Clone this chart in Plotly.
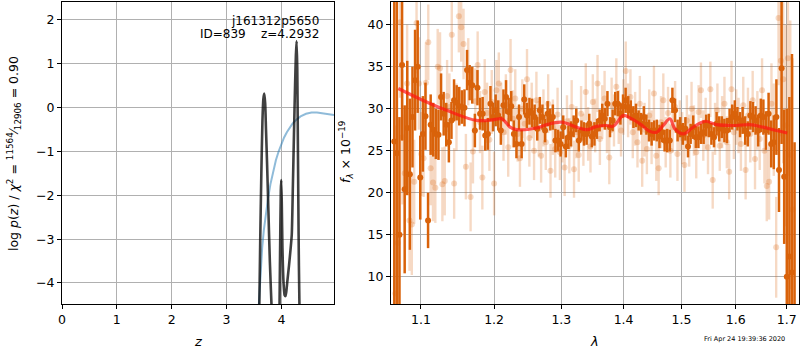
import numpy as np
import plotly.graph_objects as go

# ---- redshift probability panel ----
z_pz = [3.595, 3.615, 3.635, 3.655, 3.672, 3.688, 3.705, 3.72, 3.74, 3.765, 3.79, 3.83,
        3.88, 3.93,
        3.955, 3.975, 3.99, 3.998, 4.008, 4.02, 4.04, 4.06, 4.075, 4.09, 4.11, 4.14,
        4.17, 4.19, 4.21, 4.23, 4.25, 4.265, 4.278, 4.29, 4.30, 4.31, 4.32, 4.335]
logp_pz = [-4.8, -3.0, -1.5, -0.3, 0.2, 0.32, 0.1, -0.5, -1.3, -2.4, -3.5, -4.8,
           -6.0, -6.0,
           -5.5, -3.5, -1.9, -1.65, -2.2, -3.2, -4.0, -4.28, -4.3, -4.2, -3.95, -3.6,
           -3.2, -2.9, -1.8, -0.6, 0.5, 1.2, 1.52, 0.9, -0.6, -2.2, -3.6, -5.0]

z_prior = [3.58, 3.60, 3.62, 3.65, 3.68, 3.72, 3.76, 3.80, 3.85, 3.90, 3.95, 4.0, 4.05,
           4.1, 4.15, 4.2, 4.27, 4.35, 4.45, 4.55, 4.65, 4.75, 4.85, 4.96]
logp_prior = [-4.7, -4.2, -3.7, -3.2, -2.8, -2.4, -2.05, -1.75, -1.45, -1.2, -1.0, -0.83,
              -0.68, -0.56, -0.46, -0.37, -0.28, -0.2, -0.14, -0.11, -0.11, -0.13, -0.15, -0.17]

# ---- spectrum panel ----
dark_flux = [
    26.1, 24.7, 15.0, 35.2, 20.4, 27.7, 22.2, 29.0, 33.4, 35.0,
    21.8, 27.0, 29.1, 16.7, 28.1, 27.5, 27.0, 26.9, 31.4, 29.4,
    28.1, 26.0, 28.6, 31.0, 30.7, 30.3, 30.2, 30.1, 34.6, 33.1,
    32.8, 27.4, 32.5, 29.4, 29.4, 26.8, 27.0, 30.6, 29.0, 29.8,
    29.2, 27.4, 30.4, 31.4, 29.6, 30.3, 27.0, 25.8, 29.0, 25.8,
    31.1, 29.2, 29.7, 29.5, 29.0, 27.6, 29.8, 29.0, 27.4, 29.4,
    28.7, 29.0, 26.2, 26.2, 25.8, 27.8, 25.5, 26.6, 27.0, 27.9,
    28.6, 26.2, 27.4, 27.0, 27.0, 28.2, 26.7, 27.0, 27.6, 28.6,
    29.2, 28.8, 30.6, 27.8, 28.6, 30.6, 30.6, 29.4, 30.3, 31.0,
    30.2, 29.8, 29.0, 29.2, 28.6, 28.2, 29.0, 28.1, 27.4, 27.0,
    27.4, 27.4, 26.7, 27.2, 26.2, 26.2, 26.2, 31.0, 29.8, 27.4,
    27.8, 27.0, 27.6, 25.5, 27.0, 27.8, 26.6, 26.6, 27.0, 27.2,
    28.0, 28.0, 27.0, 26.6, 28.2, 27.6, 27.8, 27.4, 27.4, 28.6,
    29.0, 29.4, 28.8, 28.1, 28.6, 27.4, 27.0, 29.2, 29.0, 28.6,
    27.4, 29.2, 29.0, 27.4, 29.4, 25.8, 26.0, 29.0, 22.7, 34.8,
    21.9, 10.0, 12.4, 10.5, 3.0,
]
dark_err = [
    30, 28, 14, 9, 10, 8, 9, 6, 6, 5.5,
    5, 4.5, 4, 3.3, 3.6, 3.2, 3.0, 3.0, 2.8, 2.6,
    2.6, 2.4, 2.2, 2.5, 2.1, 2.3, 2.0, 2.2, 2.4, 2.1,
    2.2, 2.0, 2.1, 1.9, 2.0, 1.8, 1.9, 2.1, 1.7, 1.9,
    1.8, 1.7, 1.9, 2.0, 1.7, 1.8, 1.6, 1.7, 1.5, 1.7,
    1.8, 1.5, 1.6, 1.7, 1.5, 1.4, 1.6, 1.5, 1.4, 1.5,
    1.3, 1.5, 1.4, 1.3, 1.5, 1.4, 1.3, 1.4, 1.5, 1.3,
    1.4, 1.3, 1.2, 1.4, 1.3, 1.2, 1.3, 1.4, 1.2, 1.3,
    1.4, 1.3, 1.5, 1.2, 1.3, 1.4, 1.5, 1.3, 1.4, 1.5,
    1.3, 1.2, 1.3, 1.4, 1.2, 1.3, 1.3, 1.2, 1.3, 1.4,
    1.2, 1.3, 1.4, 1.2, 1.3, 1.4, 1.3, 1.5, 1.4, 1.3,
    1.2, 1.3, 1.4, 1.3, 1.2, 1.4, 1.3, 1.3, 1.2, 1.4,
    1.3, 1.4, 1.3, 1.2, 1.4, 1.5, 1.3, 1.4, 1.5, 1.4,
    1.5, 1.6, 1.4, 1.5, 1.6, 1.7, 1.5, 1.7, 1.8, 1.7,
    1.9, 2.0, 2.1, 2.3, 2.5, 2.8, 3.2, 4.5, 5.0, 9.0,
    8.0, 20.0, 19.0, 26.0, 23.0,
]
light_flux = [
    8.0, 14.0, 40.3, 26.6, 22.3, 33.0, 16.7, 16.2, 21.3, 40.2, 33.0,
    24.6, 24.1, 33.1, 37.9, 22.9, 21.2, 20.6, 35.0, 34.8, 21.0, 21.4, 31.5, 30.2, 38.8,
    21.1, 29.0, 41.0, 39.7, 37.7, 23.1, 34.4, 19.5, 24.9, 30.9, 35.2, 28.4, 21.8, 32.0,
    29.5, 26.3, 30.8,
    21.1, 32.2, 33.0, 29.6, 27.2, 30.5, 25.4, 34.6, 28.8, 31.2, 27.0, 24.1, 30.0, 28.2,
    33.5, 26.5, 29.8, 25.0, 31.0, 27.6, 24.4, 28.9, 26.0, 30.6, 22.6, 27.8, 25.2, 29.3,
    24.8,
    26.8, 23.0, 28.5, 25.6, 30.2, 22.8, 27.2, 24.5, 29.4, 26.3, 32.0, 27.0, 25.5, 30.8,
    28.0, 33.0, 26.4, 29.6, 31.2, 27.8, 24.2, 30.4, 28.6, 32.6, 29.0, 27.4, 30.2,
    34.5, 29.8, 31.4, 27.2, 28.8, 26.0, 30.6, 23.8, 27.5, 25.2, 29.2, 26.6, 31.8, 24.4,
    22.9, 28.4, 31.0, 26.0, 29.5, 25.0, 27.8, 30.2, 24.6, 28.0, 26.5,
    23.3, 28.6, 26.2, 30.0, 27.4, 24.8, 29.6, 32.2, 26.8, 28.2, 25.4, 32.3, 21.5, 27.6,
    29.8, 25.6, 28.4, 30.6, 26.0, 22.5, 32.3, 27.2, 29.0,
    28.0, 25.8, 30.4, 22.7, 29.2, 27.0, 31.0, 24.0, 28.6, 26.4, 32.2, 25.0, 20.8, 21.3,
    30.6, 27.5, 13.5, 40.8, 35.7, 33.5, 28.0, 36.0, 24.5, 18.0,
]
light_err = [
    20, 15, 9, 8, 7, 7, 6, 6, 5, 6, 5.5,
    5.0, 4.6, 4.8, 4.5, 4.4, 4.6, 4.2, 4.5, 4.3, 4.4, 4.1, 4.3, 4.0, 4.4,
    4.2, 4.0, 4.3, 4.1, 4.2, 3.9, 4.0, 4.1, 3.8, 3.9, 4.0, 3.7, 3.8, 3.9,
    3.6, 3.7, 3.8,
    3.8, 3.6, 3.7, 3.5, 3.4, 3.6, 3.5, 3.7, 3.4, 3.5, 3.3, 3.4, 3.5, 3.3,
    3.6, 3.4, 3.3, 3.5, 3.4, 3.3, 3.2, 3.4, 3.3, 3.5, 3.2, 3.3, 3.4, 3.2,
    3.3,
    3.2, 3.4, 3.1, 3.3, 3.2, 3.4, 3.1, 3.2, 3.3, 3.1, 3.4, 3.2, 3.1, 3.3,
    3.2, 3.4, 3.1, 3.2, 3.3, 3.1, 3.2, 3.3, 3.1, 3.4, 3.2, 3.1, 3.3,
    3.5, 3.2, 3.3, 3.1, 3.2, 3.0, 3.3, 3.1, 3.2, 3.0, 3.1, 3.2, 3.3, 3.0,
    3.2, 3.1, 3.2, 3.0, 3.1, 3.2, 3.0, 3.1, 3.2, 3.0, 3.1,
    3.2, 3.0, 3.1, 3.2, 3.0, 3.1, 3.2, 3.3, 3.0, 3.1, 3.2, 3.3, 3.4, 3.1,
    3.2, 3.0, 3.1, 3.2, 3.1, 3.3, 3.4, 3.2, 3.3,
    3.3, 3.2, 3.4, 3.5, 3.3, 3.4, 3.5, 3.6, 3.5, 3.7, 3.8, 3.9, 4.2, 4.5,
    4.8, 5.5, 6.0, 8.0, 9.0, 10.0, 12.0, 14.0, 16.0, 18.0,
]
model_wave = [1.0707, 1.1, 1.1342, 1.1753, 1.2, 1.2111, 1.2175, 1.223, 1.2325, 1.2623,
              1.2777, 1.3, 1.3242, 1.34, 1.356, 1.372, 1.3826, 1.4, 1.4106, 1.4275,
              1.4446, 1.4561, 1.4676, 1.4793, 1.4882, 1.5031, 1.5211, 1.5424, 1.5639,
              1.6, 1.6266, 1.6527, 1.6793, 1.701]
model_flux = [32.4, 31.1, 29.8, 28.6, 28.7, 28.8, 28.3, 27.8, 27.5, 27.7,
              28.1, 28.4, 27.8, 27.5, 27.9, 28.0, 27.9, 29.2, 28.9, 28.2,
              27.3, 27.2, 28.0, 28.8, 27.6, 27.0, 27.8, 28.5, 28.1,
              28.0, 28.1, 27.8, 27.4, 27.1]

# wavelength sampling of the two spectra (uniform in log lambda)
dark_wave = np.geomspace(1.0656, 1.716, len(dark_flux))
light_wave = np.geomspace(1.067, 1.712, len(light_flux))

ORANGE = "rgb(217,98,10)"
ORANGE_LIGHT = "rgba(217,98,10,0.24)"
FONT = "DejaVu Sans"
W, H = 800, 350

fig = go.Figure()

fig.add_trace(go.Scatter(x=z_prior, y=logp_prior, mode="lines",
                         line=dict(color="rgba(31,119,180,0.5)", width=2),
                         xaxis="x", yaxis="y", hoverinfo="skip"))
fig.add_trace(go.Scatter(x=z_pz, y=logp_pz, mode="lines",
                         line=dict(color="rgba(0,0,0,0.75)", width=2.6, shape="spline", smoothing=0.6),
                         xaxis="x", yaxis="y", hoverinfo="skip"))

fig.add_trace(go.Scatter(x=light_wave, y=light_flux, mode="markers",
                         marker=dict(color=ORANGE_LIGHT, size=6, line=dict(width=0)),
                         error_y=dict(type="data", array=light_err, color=ORANGE_LIGHT,
                                      thickness=2.4, width=0),
                         xaxis="x2", yaxis="y2", hoverinfo="skip"))
fig.add_trace(go.Scatter(x=dark_wave, y=dark_flux, mode="markers",
                         marker=dict(color=ORANGE, size=6, line=dict(width=0)),
                         error_y=dict(type="data", array=dark_err, color=ORANGE,
                                      thickness=2.5, width=0),
                         xaxis="x2", yaxis="y2", hoverinfo="skip"))
fig.add_trace(go.Scatter(x=model_wave, y=model_flux, mode="lines",
                         line=dict(color="rgba(255,20,20,0.7)", width=3.2, shape="spline", smoothing=1.0),
                         xaxis="x2", yaxis="y2", hoverinfo="skip"))

ydom = [1 - 304 / H, 1 - 2 / H]
axis_common = dict(showline=True, linecolor="black", linewidth=1, mirror=True,
                   ticks="outside", ticklen=4, tickwidth=1, tickcolor="black",
                   showgrid=True, gridcolor="#b0b0b0", gridwidth=1, zeroline=False,
                   tickfont=dict(family=FONT, size=12.5, color="black"),
                   automargin=False)

fig.update_layout(
    width=W, height=H, margin=dict(l=0, r=0, t=0, b=0),
    paper_bgcolor="white", plot_bgcolor="white", showlegend=False,
    font=dict(family=FONT, size=12.5, color="black"),
    xaxis=dict(domain=[62 / W, 334 / W], range=[0, 4.96], tickvals=[0, 1, 2, 3, 4],
               anchor="y", **axis_common),
    yaxis=dict(domain=ydom, range=[-4.48, 2.41], tickvals=[-4, -3, -2, -1, 0, 1, 2],
               ticktext=["\u22124", "\u22123", "\u22122", "\u22121", "0", "1", "2"],
               anchor="x", **axis_common),
    xaxis2=dict(domain=[391 / W, 799 / W], type="log", range=[0.0259, 0.2368],
                tickvals=[1.1, 1.2, 1.3, 1.4, 1.5, 1.6, 1.7],
                ticktext=["1.1", "1.2", "1.3", "1.4", "1.5", "1.6", "1.7"],
                anchor="y2", **axis_common),
    yaxis2=dict(domain=ydom, range=[6.75, 42.7], tickvals=[10, 15, 20, 25, 30, 35, 40],
                anchor="x2", **axis_common),
)

def px(x, y):
    return x / W, 1 - y / H

annots = [
    (198, 341, "<i>z</i>", 0, 13),
    (594, 341, "<i>\u03bb</i>", 0, 13),
    (14, 154, "log <i>p</i>(<i>z</i>) / <i>\u03c7</i><sup>2</sup> = "
              "<sup>11564</sup>\u2044<sub>12906</sub> = 0.90", -90, 12.5),
    (346, 152, "<i>f</i><sub><i>\u03bb</i></sub> \u00d7 10<sup>\u221219</sup>", -90, 12.5),
]
for x, y, t, ang, sz in annots:
    ax_, ay_ = px(x, y)
    fig.add_annotation(x=ax_, y=ay_, xref="paper", yref="paper", text=t, showarrow=False,
                       textangle=ang, font=dict(family=FONT, size=sz, color="black"),
                       xanchor="center", yanchor="middle")

# object name and redshift, right-aligned in the p(z) panel
for y, t in [(20.5, "j161312p5650"), (34.5, "ID=839\u00a0\u00a0\u00a0\u00a0z=4.2932")]:
    ax_, ay_ = px(321, y)
    fig.add_annotation(x=ax_, y=ay_, xref="paper", yref="paper", text=t, showarrow=False,
                       font=dict(family=FONT, size=12, color="black"),
                       xanchor="right", yanchor="middle")

ax_, ay_ = px(744, 339)
fig.add_annotation(x=ax_, y=ay_, xref="paper", yref="paper", text="Fri Apr 24 19:39:36 2020",
                   showarrow=False, font=dict(family=FONT, size=6.5, color="black"),
                   xanchor="center", yanchor="middle")

fig.write_html("out.html")
